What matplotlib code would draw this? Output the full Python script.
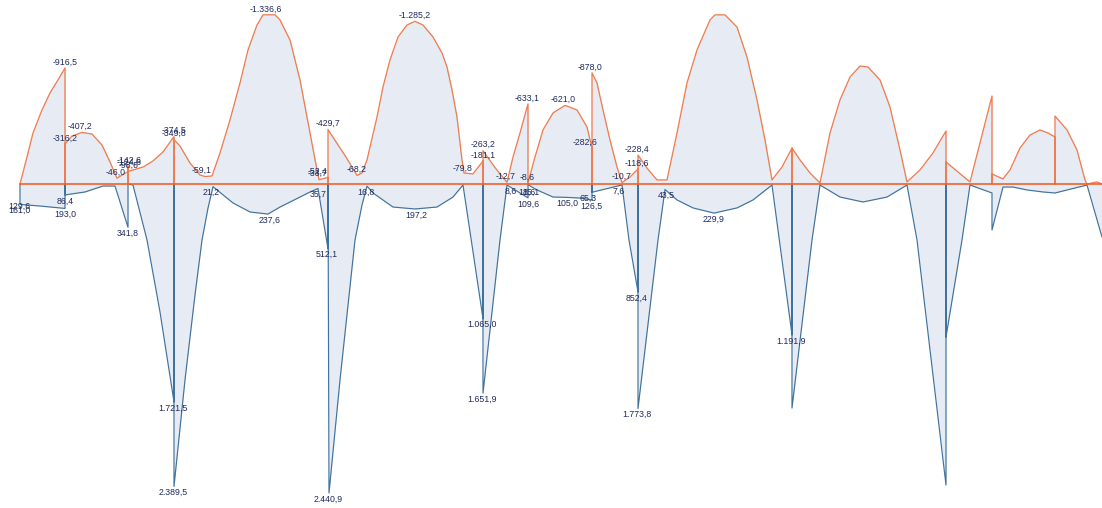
import numpy as np
import matplotlib
matplotlib.use("Agg")
import matplotlib.pyplot as plt

# stations along the beam (drawing units) and envelope moments
# top envelope (hogging, drawn upward)
top_x = [20, 27, 33, 42, 50, 58, 65, 65, 65, 72, 82, 92, 102, 110, 117,
         128, 128, 128, 128, 143, 153, 163, 174, 174, 174, 180, 190, 200, 205, 212,
         220, 230, 240, 248, 257, 263, 275, 280, 290, 300, 310, 317, 319, 328, 328,
         328, 346, 357, 362, 367, 370, 377, 383, 390, 398, 407, 415, 423, 433, 442,
         447, 452, 457, 462, 464, 473, 483, 483, 483, 495, 507, 513, 520, 528, 528,
         528, 535, 543, 553, 565, 577, 587, 592, 592, 592, 597, 603, 610, 617, 622,
         630, 638, 638, 638, 647, 657, 667, 677, 687, 697, 710, 715, 725, 737, 747,
         757, 765, 772, 782, 792, 792, 792, 800, 810, 820, 830, 840, 850, 860, 868,
         880, 890, 900, 907, 920, 933, 946, 946, 946, 970, 992, 992, 992, 1003, 1010,
         1020, 1030, 1040, 1048, 1055, 1055, 1055, 1067, 1077, 1085, 1087, 1097, 1102]
top_m = [0, -213, -403, -585, -719, -822, -916.5, 0, -316.2, -379, -407.2, -395, -308, -174, -46.0,
         -98.6, -142.6, 0, -98.6, -134, -182, -253, -374.5, 0, -349.8, -300, -166, -71, -59.1, -63,
         -245, -506, -798, -1059, -1256, -1336.6, -1336.6, -1296, -1138, -822, -403, -111, -33.7, -52.4, 0,
         -429.7, -213, -68.2, -87, -190, -292, -529, -766, -980, -1161, -1256, -1285.2, -1256, -1161, -1035,
         -924, -743, -529, -190, -87, -79.8, -181.1, 0, -263.2, -130, -12.7, -213, -403, -633.1, 0,
         -8.6, -213, -427, -561, -621.0, -585, -450, -282.6, 0, -878.0, -798, -585, -348, -134, -10.7,
         -55, -118.6, 0, -228.4, -126, -32, -32, -403, -798, -1059, -1296, -1336, -1336, -1240, -1003,
         -664, -348, -32, -134, -284, 0, -284, -190, -87, -8, -403, -664, -845, -932, -924,
         -822, -608, -269, -16, -111, -245, -419, 0, -174, -16, -695, 0, -79, -40, -111,
         -284, -387, -427, -403, -371, 0, -537, -427, -269, -32, 0, -16, 0]

# bottom envelope (sagging, drawn downward)
bot_x = [20, 20, 40, 65, 65, 65, 85, 103, 115, 128, 128, 133, 147, 160, 174,
         174, 174, 185, 195, 202, 208, 213, 233, 250, 268, 280, 300, 310, 318, 328,
         328, 329, 340, 355, 362, 367, 373, 393, 415, 437, 453, 463, 472, 483, 483,
         483, 500, 507, 520, 528, 528, 530, 537, 553, 565, 580, 592, 592, 592, 622,
         629, 638, 638, 638, 658, 665, 677, 693, 714, 737, 753, 772, 780, 792, 792,
         792, 812, 820, 840, 863, 887, 907, 917, 946, 946, 946, 962, 970, 992, 992,
         1003, 1013, 1027, 1043, 1055, 1087, 1102]
bot_m = [0, 161.0, 174, 193.0, 0, 86.4, 63, 16, 16, 341.8, 0, 8, 442, 1011, 1721.5,
         0, 2389.5, 1548, 876, 443, 190, 21.2, 150, 221, 237.6, 182, 103, 63, 35.7, 512.1,
         0, 2440.9, 1548, 442, 166, 16.8, 71, 182, 197.2, 182, 103, 8, 482, 1065.0, 0,
         1651.9, 442, 8.6, 71, 109.6, 0, 15.1, 47, 103, 105.0, 111, 126.5, 0, 65.3, 7.6,
         443, 852.4, 0, 1773.8, 442, 43.5, 126, 189, 229.9, 189, 126, 8, 482, 1191.9, 0,
         1770, 442, 8, 103, 142, 103, 8, 442, 2378, 0, 1209, 442, 8, 71, 363,
         24, 24, 47, 63, 71, 8, 419]

# value labels: station, moment
lab_x = [19, 19, 65, 80, 65, 65, 65, 116, 129, 129, 129, 128, 174, 174, 202, 211,
         266, 270, 173, 173, 318, 318, 318, 328, 327, 328, 357, 366, 415, 416,
         463, 483, 483, 482, 482, 506, 511, 527, 527, 531, 528, 527, 563, 567,
         590, 585, 588, 591, 622, 619, 637, 637, 637, 637, 666, 714, 791]
lab_m = [129.6, 161.0, -916.5, -407.2, -316.2, 86.4, 193.0, -46.0, -142.6, -124.6, -98.6, 341.8,
         -374.5, -349.8, -59.1, 21.2, -1336.6, 237.6, 1721.5, 2389.5, -33.7, -52.4, 35.7,
         -429.7, 512.1, 2440.9, -68.2, 16.8, -1285.2, 197.2, -79.8, -263.2, -181.1,
         1065.0, 1651.9, -12.7, 8.6, -8.6, 18.6, 15.1, 109.6, -633.1, -621.0, 105.0,
         -878.0, -282.6, 65.3, 126.5, -10.7, 7.6, -228.4, -118.6, 852.4, 1773.8,
         43.5, 229.9, 1191.9]


def fmt(v):
    s = f"{v:,.1f}"
    return s.replace(",", "X").replace(".", ",").replace("X", ".")


fig = plt.figure(figsize=(11.02, 5.08), dpi=100)
ax = fig.add_axes([0, 0, 1, 1])

fill_c = "#e7ecf4"
ax.fill_between(top_x, top_m, 0, color=fill_c, lw=0)
ax.fill_between(bot_x, bot_m, 0, color=fill_c, lw=0)
ax.plot(bot_x, bot_m, color="#3f729c", lw=0.85)
ax.plot(top_x, top_m, color="#ee7d52", lw=0.95)
ax.plot([top_x[0], top_x[-1]], [0, 0], color="#f0602e", lw=1.2)

for x, m in zip(lab_x, lab_m):
    dy = 4.3 if m < 0 else -4.3
    ax.annotate(fmt(m), (x, m), xytext=(0, dy), textcoords="offset points",
                ha="center", va="center", fontsize=6.3, color="#1f2a5c",
                family="Liberation Sans")

ax.set_xlim(0, 1102)
ax.set_ylim(2559.6, -1453.6)
ax.axis("off")

fig.savefig("out.png", dpi=100)
